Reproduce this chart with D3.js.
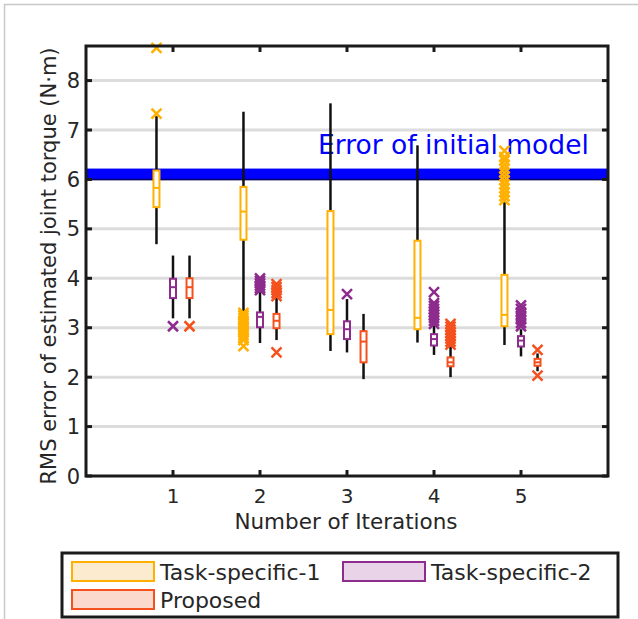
<!DOCTYPE html>
<html>
<head>
<meta charset="utf-8">
<script src="https://cdn.jsdelivr.net/npm/d3@7"></script>
<style>
  body { margin: 0; background: #fff; }
  text { font-family: "DejaVu Sans", sans-serif; }
</style>
</head>
<body>
<div id="chart"></div>
<script>
// iterations on the x axis
const iterations = [1, 2, 3, 4, 5];
const methodNames = ["Task-specific-1", "Task-specific-2", "Proposed"];
const methodColors = ["#ffb000", "#8e2c8e", "#f4511e"];
const legendFills = ["#fdebd0", "#e8d3e8", "#fbd9cc"];
const yTicks = [0, 1, 2, 3, 4, 5, 6, 7, 8];
const initialModelError = [6.0, 6.22];

// Task-specific-1 box stats per iteration
const ts1Lower = [4.69, 3.26, 2.53, 2.70, 2.65];
const ts1Q1 = [5.44, 4.78, 2.87, 2.97, 3.03];
const ts1Median = [5.83, 5.35, 3.36, 3.20, 3.26];
const ts1Q3 = [6.18, 5.85, 5.36, 4.76, 4.07];
const ts1Upper = [7.28, 7.37, 7.54, 6.69, 5.54];
const ts1Outliers = [
    [8.66, 7.33],
    [3.30, 3.25, 3.20, 3.15, 3.10, 3.05, 3.00, 2.95, 2.90, 2.85, 2.80, 2.75, 2.63],
    [],
    [],
    [6.58, 6.45, 6.38, 6.30, 6.22, 6.14, 6.06, 5.98, 5.90, 5.82, 5.74, 5.66, 5.58]
];

// Task-specific-2
const ts2Lower = [3.19, 2.69, 2.50, 2.45, 2.42];
const ts2Q1 = [3.60, 3.01, 2.77, 2.64, 2.62];
const ts2Median = [3.82, 3.22, 2.97, 2.77, 2.74];
const ts2Q3 = [3.99, 3.31, 3.13, 2.87, 2.83];
const ts2Upper = [4.46, 3.72, 3.58, 3.04, 2.97];
const ts2Outliers = [
    [3.03],
    [4.00, 3.95, 3.90, 3.85, 3.80, 3.76],
    [3.68],
    [3.72, 3.50, 3.44, 3.38, 3.32, 3.26, 3.20, 3.14, 3.08],
    [3.45, 3.38, 3.31, 3.24, 3.17, 3.10, 3.03]
];

// Proposed
const propLower = [3.19, 2.75, 1.96, 2.00, 2.12];
const propQ1 = [3.60, 2.99, 2.30, 2.22, 2.23];
const propMedian = [3.82, 3.14, 2.72, 2.30, 2.30];
const propQ3 = [4.00, 3.28, 2.93, 2.40, 2.37];
const propUpper = [4.46, 3.60, 3.28, 2.62, 2.48];
const propOutliers = [
    [3.03],
    [3.88, 3.82, 3.76, 3.70, 3.64, 2.50],
    [],
    [3.08, 3.02, 2.96, 2.90, 2.84, 2.78, 2.72, 2.66],
    [2.55, 2.03]
];

const offsets = [-0.19, 0, 0.19];

function buildSeries(lower, q1, med, q3, upper, outliers, k) {
    return iterations.map((it, i) => ({
        it: it, k: k,
        lower: lower[i], q1: q1[i], median: med[i], q3: q3[i], upper: upper[i],
        outliers: outliers[i]
    }));
}

const boxes = [].concat(
    buildSeries(ts1Lower, ts1Q1, ts1Median, ts1Q3, ts1Upper, ts1Outliers, 0),
    buildSeries(ts2Lower, ts2Q1, ts2Median, ts2Q3, ts2Upper, ts2Outliers, 1),
    buildSeries(propLower, propQ1, propMedian, propQ3, propUpper, propOutliers, 2)
);

const width = 638, height = 619;
const svg = d3.select("#chart").append("svg")
    .attr("width", width)
    .attr("height", height);

// thin outer frame (top and left)
svg.append("path")
    .attr("d", "M4.5,619 L4.5,4.5 L638,4.5")
    .attr("fill", "none")
    .attr("stroke", "#c8c8c8")
    .attr("stroke-width", 1.5);

const x = d3.scaleLinear().domain([0, 6]).range([86, 608]);
const y = d3.scaleLinear().domain([0, 8.7]).range([476, 46]);

// gridlines
svg.append("g").selectAll("line")
    .data(yTicks.filter(d => d > 0))
    .join("line")
    .attr("x1", x(0)).attr("x2", x(6))
    .attr("y1", d => y(d)).attr("y2", d => y(d))
    .attr("stroke", "#dcdcdc")
    .attr("stroke-width", 3);

// initial model error band
svg.append("rect")
    .attr("x", x(0))
    .attr("width", x(6) - x(0))
    .attr("y", y(initialModelError[1]))
    .attr("height", y(initialModelError[0]) - y(initialModelError[1]))
    .attr("fill", "#0000ff");
svg.append("line")
    .attr("x1", x(0)).attr("x2", x(6))
    .attr("y1", y(initialModelError[0])).attr("y2", y(initialModelError[0]))
    .attr("stroke", "#00006e")
    .attr("stroke-width", 1.5);

svg.append("text")
    .attr("x", 318)
    .attr("y", 154)
    .attr("fill", "#0000ff")
    .attr("font-size", "26.5px")
    .text("Error of initial model");

// boxes
const bw = 6;
const g = svg.append("g");
boxes.forEach(function (d) {
    const cx = x(d.it + offsets[d.k]);
    const col = methodColors[d.k];

    g.append("line")
        .attr("x1", cx).attr("x2", cx)
        .attr("y1", y(d.lower)).attr("y2", y(d.upper))
        .attr("stroke", "#111")
        .attr("stroke-width", 2.5);

    g.append("rect")
        .attr("x", cx - bw / 2)
        .attr("width", bw)
        .attr("y", y(d.q3))
        .attr("height", Math.max(y(d.q1) - y(d.q3), 1))
        .attr("fill", "#fff")
        .attr("stroke", col)
        .attr("stroke-width", 2);

    g.append("line")
        .attr("x1", cx - bw / 2).attr("x2", cx + bw / 2)
        .attr("y1", y(d.median)).attr("y2", y(d.median))
        .attr("stroke", col)
        .attr("stroke-width", 2);

    const s = 5;
    g.selectAll(null)
        .data(d.outliers)
        .join("path")
        .attr("d", v => {
            const py = y(v);
            return "M" + (cx - s) + "," + (py - s) + "L" + (cx + s) + "," + (py + s) +
                "M" + (cx - s) + "," + (py + s) + "L" + (cx + s) + "," + (py - s);
        })
        .attr("stroke", col)
        .attr("stroke-width", 2.5)
        .attr("fill", "none");
});

// axes frame
const axisCol = "#1a1a1a";
svg.append("rect")
    .attr("x", x(0)).attr("y", y(8.7))
    .attr("width", x(6) - x(0))
    .attr("height", y(0) - y(8.7))
    .attr("fill", "none")
    .attr("stroke", axisCol)
    .attr("stroke-width", 3);

const tl = 6;
// y ticks both sides
yTicks.forEach(function (t) {
    svg.append("line")
        .attr("x1", x(0)).attr("x2", x(0) + tl)
        .attr("y1", y(t)).attr("y2", y(t))
        .attr("stroke", axisCol).attr("stroke-width", 3);
    svg.append("line")
        .attr("x1", x(6)).attr("x2", x(6) - tl)
        .attr("y1", y(t)).attr("y2", y(t))
        .attr("stroke", axisCol).attr("stroke-width", 3);
    svg.append("text")
        .attr("x", 80)
        .attr("y", y(t))
        .attr("dy", "0.36em")
        .attr("text-anchor", "end")
        .attr("font-size", "21px")
        .attr("fill", "#262626")
        .text(t);
});

iterations.forEach(function (t) {
    svg.append("line")
        .attr("x1", x(t)).attr("x2", x(t))
        .attr("y1", y(0)).attr("y2", y(0) - tl)
        .attr("stroke", axisCol).attr("stroke-width", 3);
    svg.append("line")
        .attr("x1", x(t)).attr("x2", x(t))
        .attr("y1", y(8.7)).attr("y2", y(8.7) + tl)
        .attr("stroke", axisCol).attr("stroke-width", 3);
    svg.append("text")
        .attr("x", x(t))
        .attr("y", 503)
        .attr("text-anchor", "middle")
        .attr("font-size", "20px")
        .attr("fill", "#262626")
        .text(t);
});

svg.append("text")
    .attr("x", 346)
    .attr("y", 529)
    .attr("text-anchor", "middle")
    .attr("font-size", "21.5px")
    .attr("fill", "#262626")
    .text("Number of Iterations");

svg.append("text")
    .attr("transform", "translate(56," + 266 + ") rotate(-90)")
    .attr("text-anchor", "middle")
    .attr("font-size", "21px")
    .attr("fill", "#262626")
    .text("RMS error of estimated joint torque (N\u00b7m)");

// legend
svg.append("rect")
    .attr("x", 62).attr("y", 553)
    .attr("width", 556).attr("height", 64)
    .attr("fill", "#fff")
    .attr("stroke", axisCol)
    .attr("stroke-width", 3);

const legendPos = [[72, 562], [343, 562], [72, 590]];
methodNames.forEach(function (name, i) {
    const p = legendPos[i];
    svg.append("rect")
        .attr("x", p[0]).attr("y", p[1])
        .attr("width", 82).attr("height", 19)
        .attr("fill", legendFills[i])
        .attr("stroke", methodColors[i])
        .attr("stroke-width", 2);
    svg.append("text")
        .attr("x", p[0] + 88)
        .attr("y", p[1] + 18)
        .attr("font-size", "22px")
        .attr("fill", "#262626")
        .text(name);
});
</script>
</body>
</html>
